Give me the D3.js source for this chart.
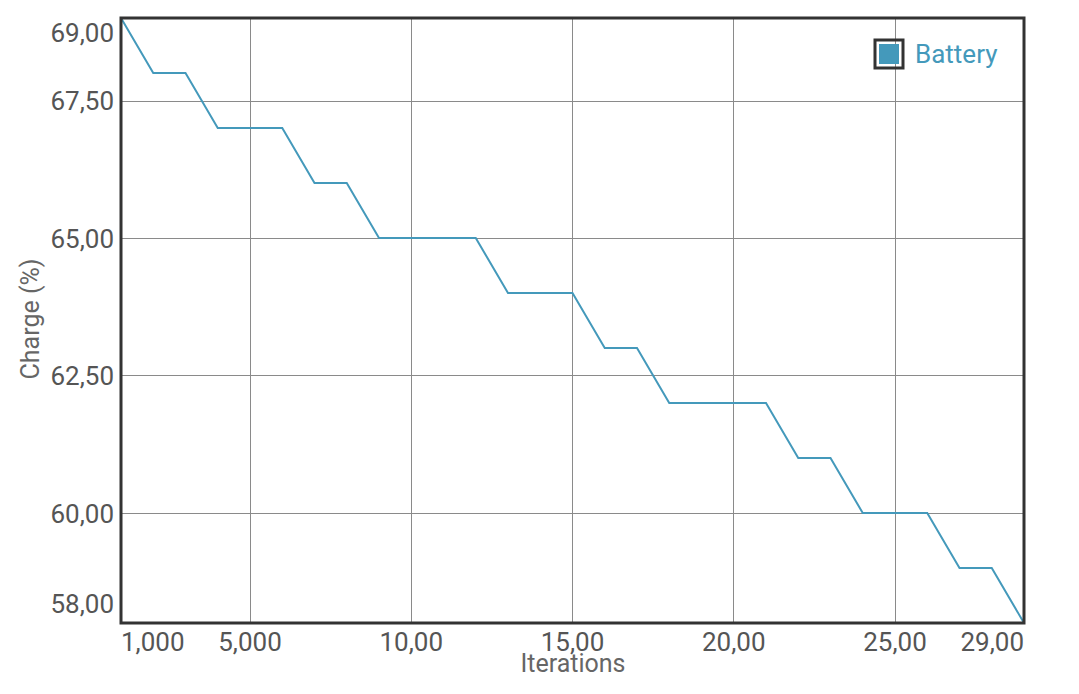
<!DOCTYPE html>
<html><head><meta charset="utf-8">
<script src="https://cdn.jsdelivr.net/npm/d3@7"></script>
<style>body{margin:0;background:#fff}svg{display:block}</style>
</head><body>
<svg id="c" width="1079" height="694"></svg>
<script>
const iterations = [1,2,3,4,5,6,7,8,9,10,11,12,13,14,15,16,17,18,19,20,21,22,23,24,25,26,27,28,29];
const charge = [69,68,68,67,67,67,66,66,65,65,65,65,64,64,64,63,63,62,62,62,62,61,61,60,60,60,59,59,58];
const xTicks = [1,5,10,15,20,25,29];
const xTickLabels = ["1,000","5,000","10,00","15,00","20,00","25,00","29,00"];
const yTicks = [69,67.5,65,62.5,60,58];
const yTickLabels = ["69,00","67,50","65,00","62,50","60,00","58,00"];
const seriesName = "Battery";

const W=1079,H=694, L=121,R=1024,T=18,B=623;
const color="#4499bb";
const svg=d3.select("#c");
const x=d3.scaleLinear().domain([1,29]).range([L,R]);
const y=d3.scaleLinear().domain([58,69]).range([B,T]);

// grid
const gridX=[5,10,15,20,25], gridY=[67.5,65,62.5,60];
svg.append("g").selectAll("line").data(gridX).join("line")
 .attr("x1",d=>x(d)).attr("x2",d=>x(d)).attr("y1",T).attr("y2",B)
 .attr("stroke","#8a8a8a").attr("stroke-width",1).attr("shape-rendering","crispEdges");
svg.append("g").selectAll("line").data(gridY).join("line")
 .attr("y1",d=>Math.round(y(d))+0.5).attr("y2",d=>Math.round(y(d))+0.5).attr("x1",L).attr("x2",R)
 .attr("stroke","#8a8a8a").attr("stroke-width",1);

// line
svg.append("path").datum(iterations.map((d,i)=>[d,charge[i]]))
 .attr("d",d3.line().x(d=>x(d[0])).y(d=>y(d[1])))
 .attr("fill","none").attr("stroke",color).attr("stroke-width",2);

// border
svg.append("rect").attr("x",L).attr("y",T).attr("width",R-L).attr("height",B-T)
 .attr("fill","none").attr("stroke","#333").attr("stroke-width",3);

// x tick labels
const fs="Roboto, sans-serif";
const tickColor="#555";
xTicks.forEach((t,i)=>{
  const txt=svg.append("text").text(xTickLabels[i]).attr("y",651)
   .attr("font-family",fs).attr("font-size",26).attr("fill",tickColor);
  let anchor="middle", xp=x(t);
  if(i===0){anchor="start"; xp=L;}
  if(i===xTicks.length-1){anchor="end"; xp=R;}
  txt.attr("x",xp).attr("text-anchor",anchor);
});
// y tick labels
yTicks.forEach((t,i)=>{
  let yp=y(t)+9.5;
  if(i===0) yp=42;
  if(i===yTicks.length-1) yp=613;
  svg.append("text").text(yTickLabels[i]).attr("x",114).attr("y",yp)
   .attr("text-anchor","end").attr("font-family",fs).attr("font-size",26).attr("fill",tickColor);
});

// axis titles
svg.append("text").text("Iterations").attr("x",573).attr("y",672).attr("text-anchor","middle")
 .attr("font-family",fs).attr("font-size",25).attr("fill","#666");
svg.append("text").text("Charge (%)").attr("transform","translate(39,319) rotate(-90)").attr("text-anchor","middle")
 .attr("font-family",fs).attr("font-size",25).attr("fill","#666");

// legend
svg.append("rect").attr("x",875).attr("y",40).attr("width",28).attr("height",28)
 .attr("fill","none").attr("stroke","#333").attr("stroke-width",3);
svg.append("rect").attr("x",879).attr("y",44).attr("width",20).attr("height",20).attr("fill",color);
svg.append("text").text(seriesName).attr("x",915).attr("y",63)
 .attr("font-family",fs).attr("font-size",26).attr("fill",color);
</script>
</body></html>
